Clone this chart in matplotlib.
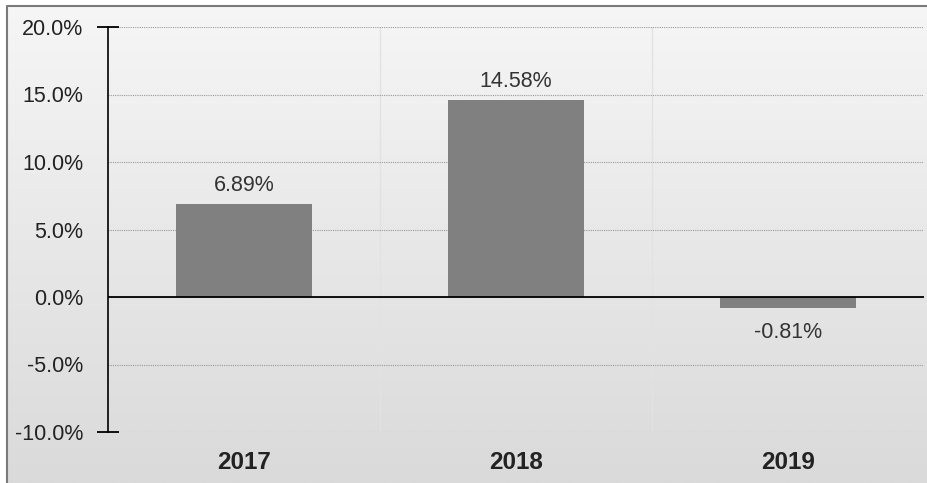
import matplotlib.pyplot as plt
import numpy as np
from matplotlib.colors import LinearSegmentedColormap
from matplotlib.patches import Rectangle
from matplotlib.ticker import FuncFormatter, MultipleLocator

years = ["2017", "2018", "2019"]
returns = [6.89, 14.58, -0.81]
labels = ["6.89%", "14.58%", "-0.81%"]

plt.rcParams["font.family"] = ["Liberation Sans", "DejaVu Sans"]

fig = plt.figure(figsize=(9.27, 4.83), dpi=100)

# background gradient + outer frame
bg = fig.add_axes([0, 0, 1, 1])
grad = np.linspace(0, 1, 256).reshape(-1, 1)
cmap = LinearSegmentedColormap.from_list("bg", ["#f6f6f6", "#dadada"])
bg.imshow(grad, aspect="auto", cmap=cmap, extent=[0, 1, 0, 1], origin="upper")
bg.add_patch(Rectangle((0, 1 - 6 / 483), 1, 6 / 483, color="white", transform=bg.transAxes))
bg.add_patch(Rectangle((0, 0), 6 / 927, 1, color="white", transform=bg.transAxes))
bg.plot([7 / 927, 7 / 927, 1], [0, 1 - 6 / 483, 1 - 6 / 483], color="#7a7a7a",
        linewidth=1.5, transform=bg.transAxes)
bg.set_xlim(0, 1)
bg.set_ylim(0, 1)
bg.axis("off")

ax = fig.add_axes([108 / 927, 51 / 483, 816 / 927, 405 / 483])
ax.set_facecolor("none")

x = np.arange(len(years))
ax.bar(x, returns, width=0.5, color="#808080", zorder=3)

for xi, v, lab in zip(x, returns, labels):
    if v >= 0:
        ax.annotate(lab, (xi, v), xytext=(0, 6), textcoords="offset points",
                    ha="center", va="bottom", fontsize=15.5, color="#333333", zorder=4)
    else:
        ax.annotate(lab, (xi, v), xytext=(0, -10), textcoords="offset points",
                    ha="center", va="top", fontsize=15.5, color="#333333", zorder=4)

ax.set_xlim(-0.5, len(years) - 0.5)
ax.set_ylim(-10, 20)
ax.yaxis.set_major_locator(MultipleLocator(5))
ax.yaxis.set_major_formatter(FuncFormatter(lambda v, p: f"{v:.1f}%"))
# end caps on the value axis
ax.yaxis.remove_overlapping_locs = False
ax.set_yticks([-10, 20], minor=True)
ax.tick_params(axis="y", which="major", length=0, labelsize=15.5, labelcolor="#222222", pad=18)
ax.tick_params(axis="y", which="minor", direction="inout", length=16, width=1.3, color="black")

ax.set_xticks(x)
ax.set_xticklabels(years, fontsize=17.5, fontweight="bold", color="#222222")
ax.tick_params(axis="x", length=0, pad=14)

# grid lines
ax.yaxis.grid(True, which="major", color="#9a9a9a", linestyle=(0, (1, 1)), linewidth=0.8, zorder=1)
for b in x[:-1] + 0.5:
    ax.axvline(b, color="#e2e2e2", linewidth=1, zorder=1)
ax.axhline(0, color="black", linewidth=1.3, zorder=4)

for s in ["top", "right", "bottom"]:
    ax.spines[s].set_visible(False)
ax.spines["left"].set_color("black")
ax.spines["left"].set_linewidth(1.2)

fig.savefig("out.png", dpi=100)
